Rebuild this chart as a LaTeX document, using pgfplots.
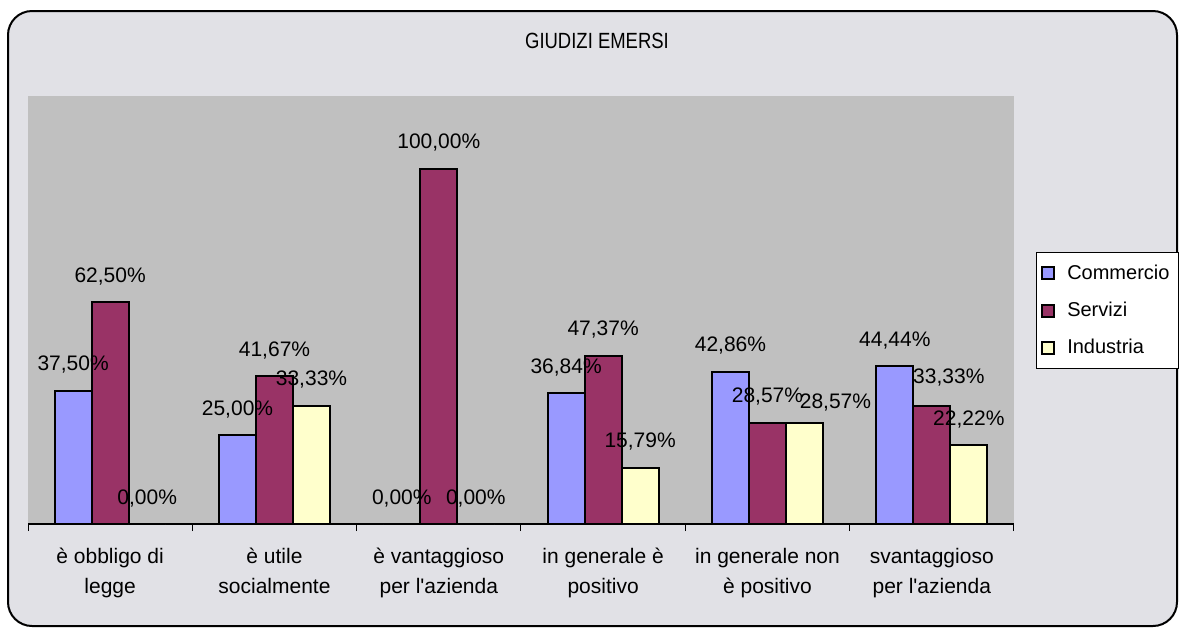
\documentclass[border=0pt]{standalone}
\usepackage{graphicx}
\usepackage{pgfplots}
\usepackage{pgfplotstable}
\pgfplotsset{compat=1.18}
\usepackage{fontspec}
\setmainfont{Liberation Sans}[Ligatures=TeXOff]
\definecolor{commercio}{HTML}{9999FF}
\definecolor{servizi}{HTML}{993366}
\definecolor{industria}{HTML}{FFFFCC}
\definecolor{plotbg}{HTML}{C0C0C0}
\definecolor{marble}{HTML}{E1E1E6}
% x y dx dy (label offsets, pt)
\pgfplotstableread{
x y dx dy
0 37.50 0 0
1 25.00 0 0
2 0.00 0 0
3 36.84 0 0
4 42.86 0 0
5 44.44 0 0
}\commercio
\pgfplotstableread{
x y dx dy
0 62.50 0 0
1 41.67 0 0
2 100.00 0 0
3 47.37 0 0
4 28.57 0 0
5 33.33 8.5 1
}\servizi
\pgfplotstableread{
x y dx dy
0 0.00 0 0
1 33.33 0 0
2 0.00 0 0
3 15.79 0 0
4 28.57 15.5 -3
5 22.22 0 0
}\industria
\begin{document}
\begin{tikzpicture}
\fill[white] (0,0) rectangle (590pt,-314pt);
\draw[line width=1pt, fill=marble, rounded corners=12pt] (4pt,-5.5pt) rectangle (588.5pt,-313pt);
\node[font=\fontsize{11}{13}\selectfont, inner sep=0pt] at (298.5pt,-20.5pt) {\scalebox{0.84}[1]{GIUDIZI EMERSI}};
\begin{axis}[
  at={(14pt,-262pt)}, anchor=south west,
  scale only axis, width=493pt, height=214pt,
  xmin=-0.5, xmax=5.5, ymin=0, ymax=120.5,
  axis background/.style={fill=plotbg},
  axis x line*=bottom, axis y line=none,
  x axis line style={black, line width=1pt},
  ytick=\empty,
  xtick={0,1,2,3,4,5},
  xticklabels={{è obbligo di\\legge},{è utile\\socialmente},{è vantaggioso\\per l'azienda},{in generale è\\positivo},{in generale non\\è positivo},{svantaggioso\\per l'azienda}},
  major tick length=0pt,
  minor xtick={-0.5,0.5,1.5,2.5,3.5,4.5,5.5},
  minor tick length=3.5pt,
  tick align=outside,
  every tick/.style={black, line width=0.5pt},
  x tick label style={font=\fontsize{10.5}{15}\selectfont, align=center, anchor=north, inner sep=0pt, yshift=-12pt},
  ybar=0pt, bar width=18.5pt,
  nodes near coords={\pgfmathprintnumber[fixed,fixed zerofill,precision=2,use comma,assume math mode=true]{\pgfplotspointmeta}\%},
  legend style={at={(1.0223,0.6355)}, anchor=north west, draw=black, line width=0.5pt, fill=white,
    font=\fontsize{10}{12}\selectfont, row sep=6pt, inner xsep=2.5pt, inner ysep=4pt, cells={anchor=west}},
  legend image code/.code={\draw[#1,line width=0.8pt] (0pt,-3pt) rectangle (6pt,3pt); \path (10pt,0pt);},
]
\pgfplotsset{labelstyle/.style={
  visualization depends on={\thisrow{dx} \as \dx},
  visualization depends on={\thisrow{dy} \as \dy},
  every node near coord/.append style={font=\fontsize{10.5}{12}\selectfont, anchor=base, inner sep=0pt, xshift=\dx pt, yshift=10pt+\dy pt, text=black}}}
\addplot[fill=commercio, draw=black, line width=1pt, labelstyle] table[x=x,y=y] {\commercio};
\addplot[fill=servizi, draw=black, line width=1pt, labelstyle] table[x=x,y=y] {\servizi};
\addplot[fill=industria, draw=black, line width=1pt, labelstyle] table[x=x,y=y] {\industria};
\legend{Commercio,Servizi,Industria}
\end{axis}
\end{tikzpicture}
\end{document}
